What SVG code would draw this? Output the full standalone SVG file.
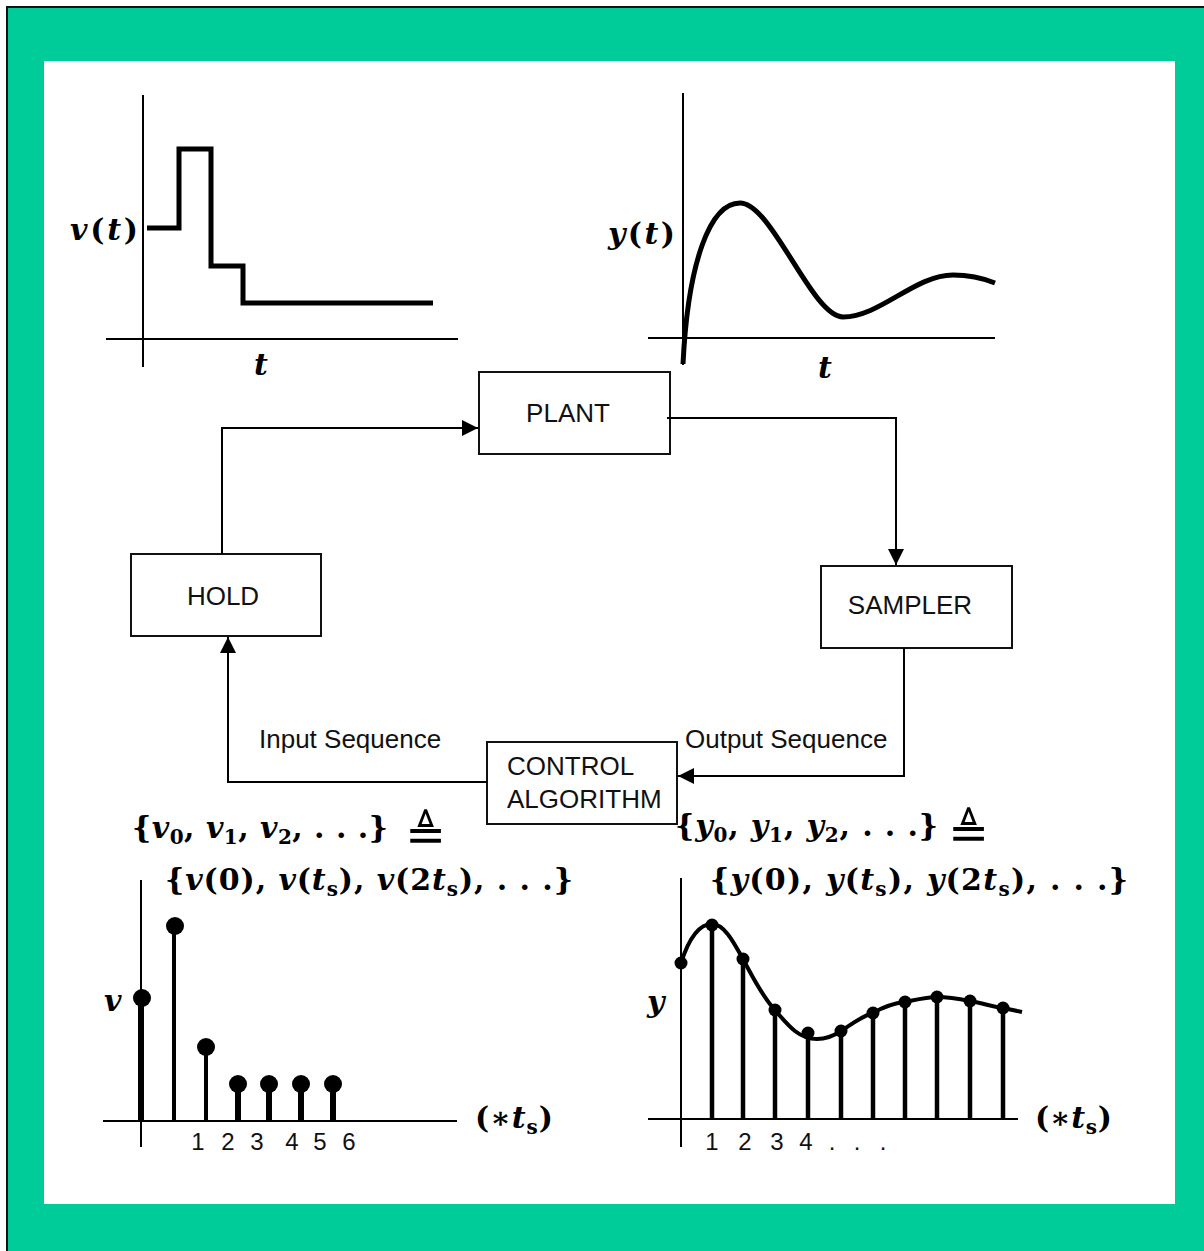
<svg xmlns="http://www.w3.org/2000/svg" width="1204" height="1251" viewBox="0 0 1204 1251">
<defs>
<marker id="arr" viewBox="0 0 10 10" refX="10" refY="5" markerWidth="22" markerHeight="16" markerUnits="userSpaceOnUse" orient="auto">
<path d="M0,0 L10,5 L0,10 z" fill="#000"/>
</marker>
<style>
.box{fill:#fff;stroke:#111;stroke-width:2}
.lbl{font-family:"Liberation Sans",Arial,sans-serif;font-size:26px;fill:#111}
.num{font-family:"Liberation Sans",Arial,sans-serif;font-size:24px;fill:#111}
.conn{fill:none;stroke:#000;stroke-width:2}
.axis{fill:none;stroke:#000;stroke-width:2}
.curve{fill:none;stroke:#000;stroke-width:5;stroke-linejoin:miter}
.m{font-family:"DejaVu Serif","Liberation Serif",serif;font-size:30px;font-weight:bold;fill:#000}
.i{font-style:italic}
.sub{font-size:20px}
.tri{font-family:"DejaVu Sans","Noto Sans",sans-serif;font-size:49px;fill:#000}
</style>
</defs>
<g id="frame">
<rect x="0" y="0" width="1204" height="1251" fill="#fff"/>
<rect x="7" y="7" width="1197" height="1244" fill="#00CC99"/>
<path d="M7,1251 V7 H1204" fill="none" stroke="#111" stroke-width="2"/>
<rect x="44" y="61" width="1131" height="1143" fill="#fff"/>
</g>
<g id="graph-v-continuous">
<line class="axis" x1="143" y1="95" x2="143" y2="367"/>
<line class="axis" x1="106" y1="339" x2="458" y2="339"/>
<path class="curve" d="M147,228 H179 V149 H211 V266 H243 V303 H433"/>
<text class="m" x="70" y="240" textLength="68" lengthAdjust="spacing"><tspan class="i">v</tspan>(<tspan class="i">t</tspan>)</text>
<text class="m i" x="254" y="375">t</text>
</g>
<g id="graph-y-continuous">
<line class="axis" x1="683" y1="93" x2="683" y2="365"/>
<line class="axis" x1="648" y1="338" x2="995" y2="338"/>
<path class="curve" d="M683,364 C688,262 710,203 740,203 C772,203 812,317 843,317 C880,317 915,275 953,275 C970,275 985,279 995,283"/>
<text class="m" x="608" y="244" textLength="67" lengthAdjust="spacing"><tspan class="i">y</tspan>(<tspan class="i">t</tspan>)</text>
<text class="m i" x="818" y="378">t</text>
</g>
<g id="node-plant">
<rect class="box" x="479" y="372" width="191" height="82"/>
<text class="lbl" x="568" y="422" text-anchor="middle">PLANT</text>
</g>
<g id="node-hold">
<rect class="box" x="131" y="554" width="190" height="82"/>
<text class="lbl" x="223" y="605" text-anchor="middle">HOLD</text>
</g>
<g id="node-sampler">
<rect class="box" x="821" y="566" width="191" height="82"/>
<text class="lbl" x="910" y="614" text-anchor="middle">SAMPLER</text>
</g>
<g id="node-control">
<rect class="box" x="487" y="742" width="190" height="82"/>
<text class="lbl" x="507" y="775">CONTROL</text>
<text class="lbl" x="507" y="808">ALGORITHM</text>
</g>
<g id="connectors">
<path class="conn" d="M222,554 V428 H478" marker-end="url(#arr)"/>
<path class="conn" d="M667,418 H896 V565" marker-end="url(#arr)"/>
<path class="conn" d="M904,648 V776 H678" marker-end="url(#arr)"/>
<path class="conn" d="M487,782 H228 V637" marker-end="url(#arr)"/>
<text class="lbl" x="259" y="748">Input Sequence</text>
<text class="lbl" x="685" y="748">Output Sequence</text>
</g>
<g id="seq-text">
<text class="m" x="132" y="838" textLength="256" lengthAdjust="spacing">{<tspan class="i">v</tspan><tspan class="sub" dy="6">0</tspan><tspan dy="-6">, </tspan><tspan class="i">v</tspan><tspan class="sub" dy="6">1</tspan><tspan dy="-6">, </tspan><tspan class="i">v</tspan><tspan class="sub" dy="6">2</tspan><tspan dy="-6">, . . .}</tspan></text>
<text class="tri" x="405" y="851">≜</text>
<text class="m" x="165" y="890" textLength="408" lengthAdjust="spacing">{<tspan class="i">v</tspan>(0), <tspan class="i">v</tspan>(<tspan class="i">t</tspan><tspan class="sub" dy="6">s</tspan><tspan dy="-6">), </tspan><tspan class="i">v</tspan>(2<tspan class="i">t</tspan><tspan class="sub" dy="6">s</tspan><tspan dy="-6">), . . .}</tspan></text>
<text class="m" x="675" y="836" textLength="263" lengthAdjust="spacing">{<tspan class="i">y</tspan><tspan class="sub" dy="6">0</tspan><tspan dy="-6">, </tspan><tspan class="i">y</tspan><tspan class="sub" dy="6">1</tspan><tspan dy="-6">, </tspan><tspan class="i">y</tspan><tspan class="sub" dy="6">2</tspan><tspan dy="-6">, . . .}</tspan></text>
<text class="tri" x="948" y="849">≜</text>
<text class="m" x="710" y="890" textLength="418" lengthAdjust="spacing">{<tspan class="i">y</tspan>(0), <tspan class="i">y</tspan>(<tspan class="i">t</tspan><tspan class="sub" dy="6">s</tspan><tspan dy="-6">), </tspan><tspan class="i">y</tspan>(2<tspan class="i">t</tspan><tspan class="sub" dy="6">s</tspan><tspan dy="-6">), . . .}</tspan></text>
</g>
<g id="graph-v-sampled">
<line class="axis" x1="141" y1="880" x2="141" y2="1147"/>
<line class="axis" x1="103" y1="1121" x2="457" y2="1121"/>
<g stroke="#000" fill="none">
<line x1="141" y1="998" x2="141" y2="1121" stroke-width="6"/>
<line x1="174" y1="926" x2="174" y2="1121" stroke-width="4"/>
<line x1="206" y1="1047" x2="206" y2="1121" stroke-width="4"/>
<line x1="238" y1="1084" x2="238" y2="1121" stroke-width="6"/>
<line x1="269" y1="1084" x2="269" y2="1121" stroke-width="6"/>
<line x1="301" y1="1084" x2="301" y2="1121" stroke-width="6"/>
<line x1="333" y1="1084" x2="333" y2="1121" stroke-width="6"/>
</g>
<g fill="#000">
<circle cx="142" cy="998" r="9"/>
<circle cx="175" cy="926" r="9"/>
<circle cx="206" cy="1047" r="9"/>
<circle cx="238" cy="1084" r="9"/>
<circle cx="269" cy="1084" r="9"/>
<circle cx="301" cy="1084" r="9"/>
<circle cx="333" cy="1084" r="9"/>
</g>
<text class="m i" x="104" y="1011">v</text>
<text class="num" x="198" y="1150" text-anchor="middle">1</text>
<text class="num" x="228" y="1150" text-anchor="middle">2</text>
<text class="num" x="257" y="1150" text-anchor="middle">3</text>
<text class="num" x="292" y="1150" text-anchor="middle">4</text>
<text class="num" x="320" y="1150" text-anchor="middle">5</text>
<text class="num" x="349" y="1150" text-anchor="middle">6</text>
<text class="m" x="475" y="1128" textLength="78" lengthAdjust="spacing">(∗<tspan class="i">t</tspan><tspan class="sub" dy="6">s</tspan><tspan dy="-6">)</tspan></text>
</g>
<g id="graph-y-sampled">
<line class="axis" x1="681" y1="878" x2="681" y2="1147"/>
<line class="axis" x1="648" y1="1119" x2="1018" y2="1119"/>
<g stroke="#000" stroke-width="4.5" fill="none">
<line x1="712" y1="925" x2="712" y2="1119"/>
<line x1="743" y1="959" x2="743" y2="1119"/>
<line x1="775" y1="1010" x2="775" y2="1119"/>
<line x1="808" y1="1033" x2="808" y2="1119"/>
<line x1="841" y1="1031" x2="841" y2="1119"/>
<line x1="873" y1="1013" x2="873" y2="1119"/>
<line x1="905" y1="1002" x2="905" y2="1119"/>
<line x1="937" y1="997" x2="937" y2="1119"/>
<line x1="970" y1="1001" x2="970" y2="1119"/>
<line x1="1003" y1="1008" x2="1003" y2="1119"/>
</g>
<path fill="none" stroke="#000" stroke-width="4" d="M681,963 C690,935 700,924 712,924 C725,924 735,945 743,959 C755,982 765,1000 775,1010 C790,1028 800,1039 817,1039 C828,1039 835,1035 841,1031 C852,1024 862,1016 873,1013 C885,1006 895,1003 905,1002 C915,1000 927,997 937,997 C950,997 960,999 970,1001 C985,1004 995,1007 1003,1008 L1022,1012"/>
<g fill="#000">
<circle cx="681" cy="963" r="6.5"/>
<circle cx="712" cy="925" r="6.5"/>
<circle cx="743" cy="959" r="6.5"/>
<circle cx="775" cy="1010" r="6.5"/>
<circle cx="808" cy="1033" r="6.5"/>
<circle cx="841" cy="1031" r="6.5"/>
<circle cx="873" cy="1013" r="6.5"/>
<circle cx="905" cy="1002" r="6.5"/>
<circle cx="937" cy="997" r="6.5"/>
<circle cx="970" cy="1001" r="6.5"/>
<circle cx="1003" cy="1008" r="6.5"/>
</g>
<text class="m i" x="647" y="1012">y</text>
<text class="num" x="712" y="1150" text-anchor="middle">1</text>
<text class="num" x="745" y="1150" text-anchor="middle">2</text>
<text class="num" x="777" y="1150" text-anchor="middle">3</text>
<text class="num" x="806" y="1150" text-anchor="middle">4</text>
<text class="num" x="832" y="1150" text-anchor="middle">.</text>
<text class="num" x="857" y="1150" text-anchor="middle">.</text>
<text class="num" x="883" y="1150" text-anchor="middle">.</text>
<text class="m" x="1035" y="1128" textLength="77" lengthAdjust="spacing">(∗<tspan class="i">t</tspan><tspan class="sub" dy="6">s</tspan><tspan dy="-6">)</tspan></text>
</g>
</svg>
